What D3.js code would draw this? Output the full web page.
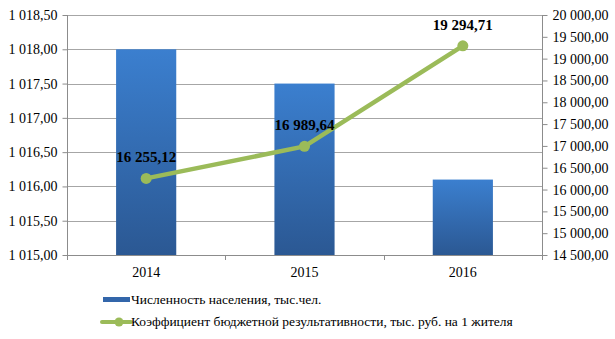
<!DOCTYPE html>
<html><head><meta charset="utf-8">
<script src="https://cdn.jsdelivr.net/npm/d3@7"></script>
<style>body{margin:0;background:#fff}svg{display:block}</style>
</head><body>
<script>
const categories = ["2014", "2015", "2016"];
const population = [1018.0, 1017.5, 1016.1];
const coefficient = [16255.12, 16989.64, 19294.71];
const coefLabels = ["16 255,12", "16 989,64", "19 294,71"];
const leftTicks = [1015, 1015.5, 1016, 1016.5, 1017, 1017.5, 1018, 1018.5];
const rightTicks = d3.range(14500, 20001, 500);
const seriesNames = ["Численность населения, тыс.чел.", "Коэффициент бюджетной результативности, тыс. руб. на 1 жителя"];

const W = 615, H = 339;
const m = {l: 67, r: 542, t: 15, b: 255};
const svg = d3.select("body").append("svg").attr("width", W).attr("height", H);
const FONT = '"Liberation Serif"';

const defs = svg.append("defs");
const g = defs.append("linearGradient").attr("id", "bg").attr("x1", 0).attr("y1", 0).attr("x2", 0).attr("y2", 1);
g.append("stop").attr("offset", "0%").attr("stop-color", "#3b7fcf");
g.append("stop").attr("offset", "100%").attr("stop-color", "#2b5893");

const x = d3.scaleBand().domain(categories).range([m.l, m.r]).paddingInner(0.62).paddingOuter(0.31);
const xc = d3.scaleBand().domain(categories).range([m.l, m.r]);
const yL = d3.scaleLinear().domain([1015, 1018.5]).range([m.b, m.t]);
const yR = d3.scaleLinear().domain([14500, 20000]).range([m.b, m.t]);

const fmt = (v, d) => {
  const s = d3.format(",." + d + "f")(v);
  return s.replace(/,/g, " ").replace(".", ",");
};
const axisColor = "#8c8c8c";

// gridlines
svg.append("g").selectAll("line").data(leftTicks.slice(1)).join("line")
  .attr("x1", m.l).attr("x2", m.r).attr("y1", d => Math.round(yL(d)) + 0.5).attr("y2", d => Math.round(yL(d)) + 0.5)
  .attr("stroke", "#a6a6a6").attr("stroke-width", 1);

// bars
svg.append("g").selectAll("rect").data(population).join("rect")
  .attr("x", (d, i) => x(categories[i])).attr("width", x.bandwidth())
  .attr("y", d => yL(d)).attr("height", d => yL(1015) - yL(d))
  .attr("fill", "url(#bg)");

// left axis
const la = svg.append("g").attr("transform", `translate(${m.l + 0.5},0)`)
  .call(d3.axisLeft(yL).tickValues(leftTicks).tickSize(5).tickFormat(d => "1 " + fmt(d - 1000, 2).padStart(6, "0")));
// right axis
const ra = svg.append("g").attr("transform", `translate(${m.r + 0.5},0)`)
  .call(d3.axisRight(yR).tickValues(rightTicks).tickSize(5).tickFormat(d => fmt(d, 2)));
// bottom axis
const ba = svg.append("g").attr("transform", `translate(0,${m.b + 0.5})`)
  .call(d3.axisBottom(xc).tickSize(0).tickPadding(12));
[la, ra, ba].forEach(a => {
  a.attr("font-family", null);
  a.selectAll(".domain").attr("stroke", axisColor);
  a.selectAll(".tick line").attr("stroke", axisColor);
  a.selectAll("text").attr("fill", "#000").style("font-family", FONT).style("font-size", "14px");
});
la.select(".domain").attr("d", `M0,${m.t}V${m.b}`);
ra.select(".domain").attr("d", `M0,${m.t}V${m.b}`);
ba.select(".domain").attr("d", `M${m.l},0H${m.r}`);
la.selectAll("text").attr("x", -10);
ra.selectAll("text").attr("x", 10);
// category separators
svg.append("g").selectAll("line").data([...categories.map(c => xc(c)), m.r]).join("line")
  .attr("x1", d => Math.round(d) + 0.5).attr("x2", d => Math.round(d) + 0.5)
  .attr("y1", m.b).attr("y2", m.b + 5).attr("stroke", axisColor);

// line
const cx = i => xc(categories[i]) + xc.bandwidth() / 2;
const line = d3.line().x((d, i) => cx(i)).y(d => yR(d));
svg.append("path").datum(coefficient).attr("d", line)
  .attr("fill", "none").attr("stroke", "#9bbb59").attr("stroke-width", 4.5).attr("stroke-linejoin", "round");
svg.append("g").selectAll("circle").data(coefficient).join("circle")
  .attr("cx", (d, i) => cx(i)).attr("cy", d => yR(d)).attr("r", 5.5).attr("fill", "#9bbb59");
svg.append("g").selectAll("text").data(coefficient).join("text")
  .attr("x", (d, i) => cx(i)).attr("y", d => yR(d) - 16)
  .attr("text-anchor", "middle").style("font-family", FONT).style("font-size", "15px").style("font-weight", "bold")
  .text((d, i) => coefLabels[i]);

// legend
const lg = svg.append("g");
lg.append("rect").attr("x", 103).attr("y", 297).attr("width", 27).attr("height", 5).attr("fill", "#3366aa");
lg.append("line").attr("x1", 102).attr("x2", 131).attr("y1", 322).attr("y2", 322).attr("stroke", "#9bbb59").attr("stroke-width", 4).attr("stroke-linecap", "round");
lg.append("circle").attr("cx", 119).attr("cy", 322).attr("r", 4.5).attr("fill", "#9bbb59");
lg.selectAll("text").data(seriesNames).join("text")
  .attr("x", 131).attr("y", (d, i) => 304 + i * 22)
  .style("font-family", FONT).style("font-size", "13.5px").text(d => d);
</script>
</body></html>
